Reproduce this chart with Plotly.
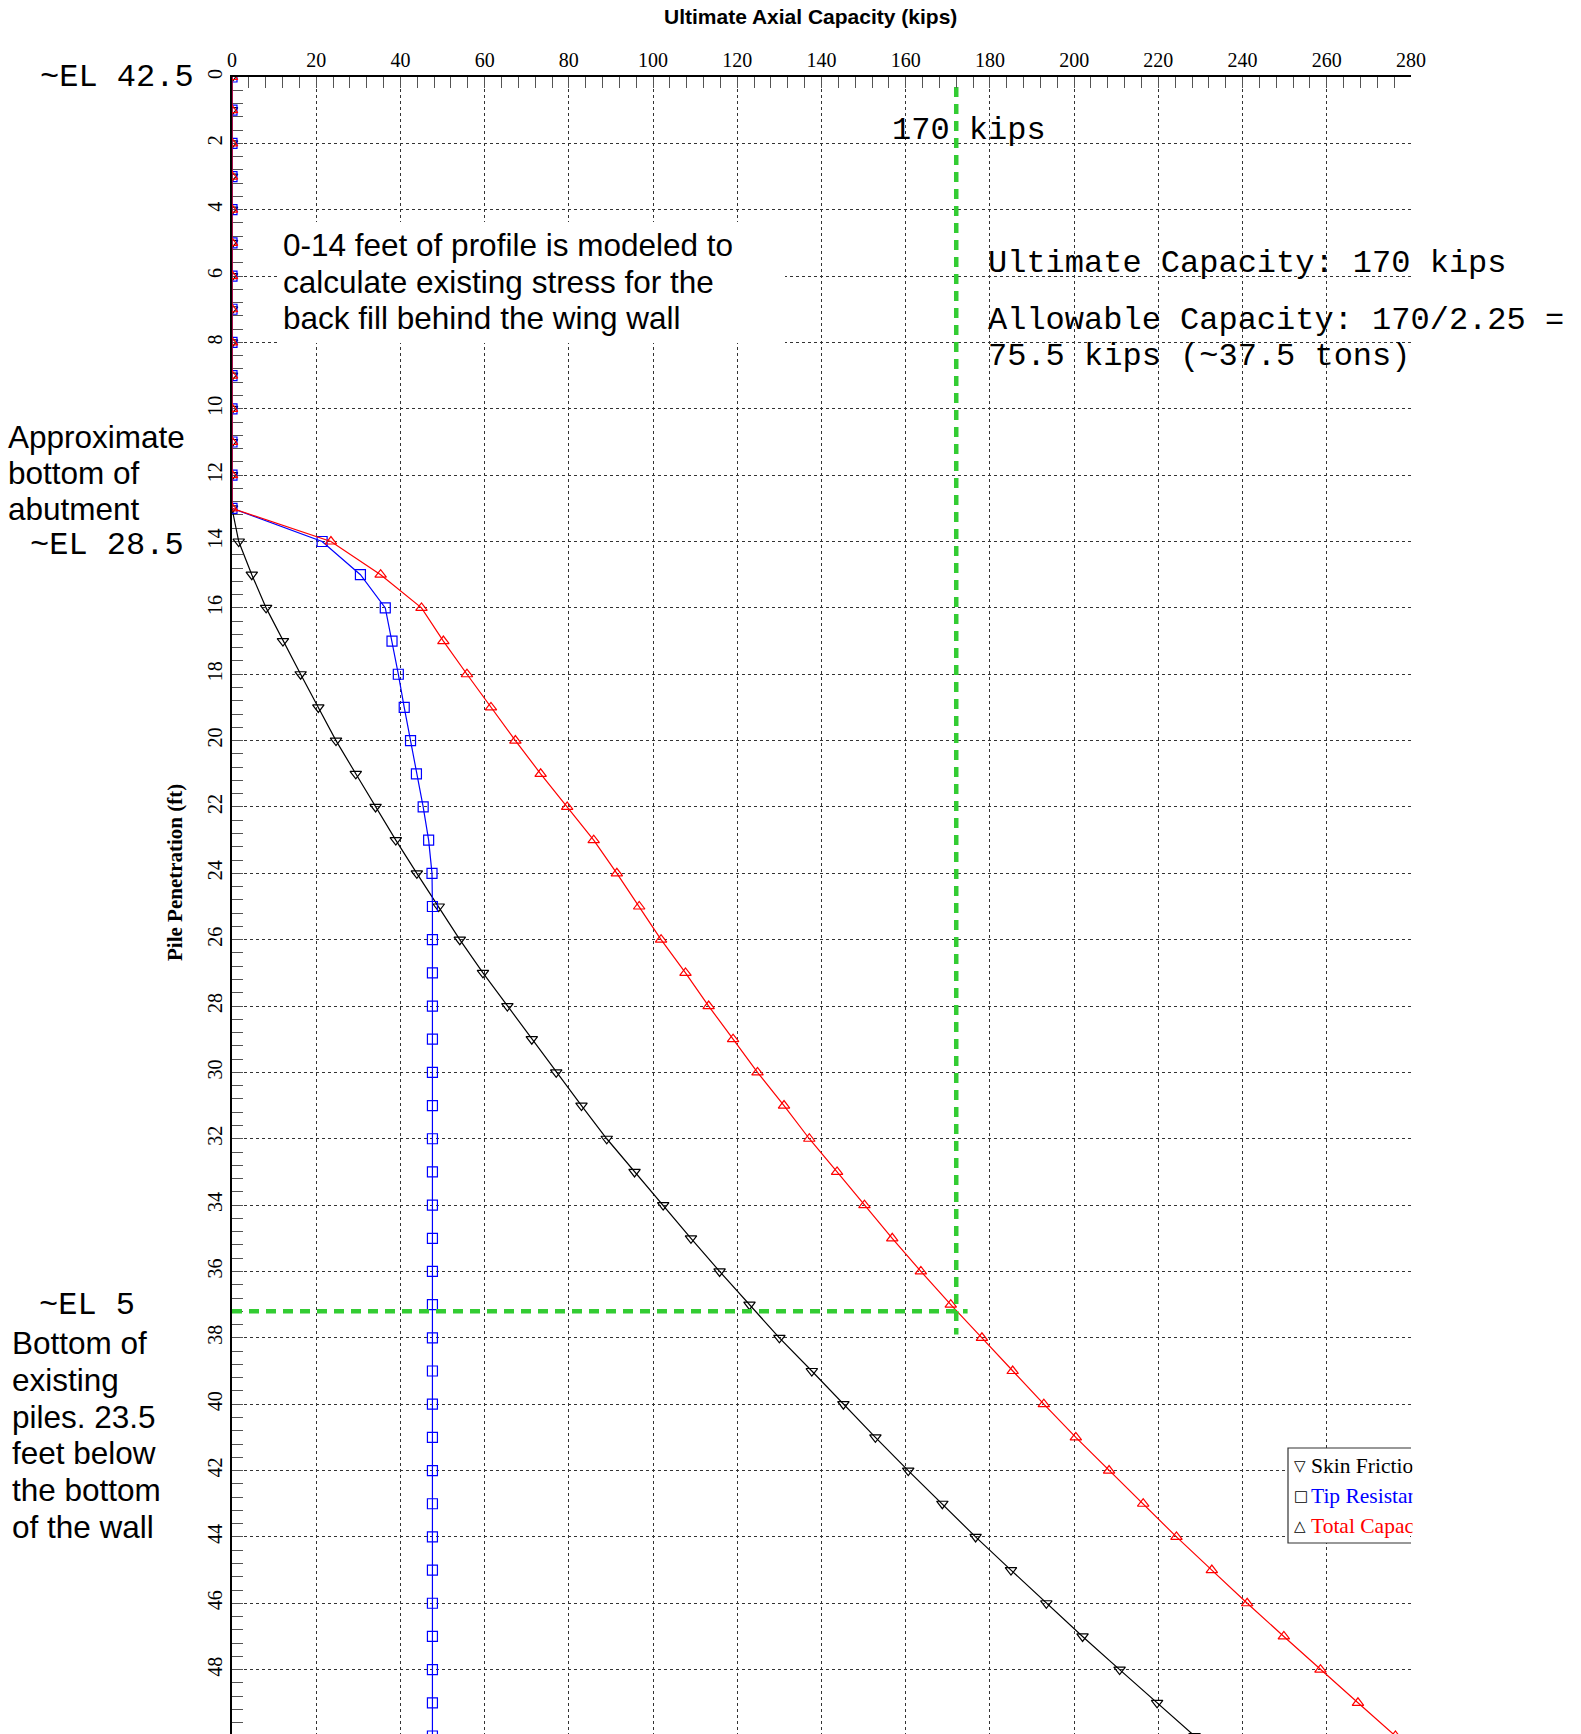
import plotly.graph_objects as go

# ---------------- data ----------------
depth = [0, 1, 2, 3, 4, 5, 6, 7, 8, 9, 10, 11, 12, 13, 14, 15, 16, 17, 18, 19, 20,
         21, 22, 23, 24, 25, 26, 27, 28, 29, 30, 31, 32, 33, 34, 35, 36, 37, 38, 39, 40,
         41, 42, 43, 44, 45, 46, 47, 48, 49, 50]
skin_friction = [0, 0, 0, 0, 0, 0, 0, 0, 0, 0, 0, 0, 0, 0,
                 1.6, 4.7, 8.1, 12.1, 16.3, 20.5, 24.7, 29.4, 34.1, 38.9, 43.9, 49.1, 54.1,
                 59.6, 65.4, 71.2, 77.0, 83.0, 89.0, 95.6, 102.4, 109.0, 115.8, 122.9, 130.0,
                 137.7, 145.2, 152.8, 160.6, 168.7, 176.6, 185.0, 193.4, 202.0, 210.8, 219.7, 228.6]
tip_resistance = [0, 0, 0, 0, 0, 0, 0, 0, 0, 0, 0, 0, 0, 0,
                  21.4, 30.5, 36.4, 38.0, 39.5, 40.9, 42.4, 43.8, 45.4, 46.7, 47.5, 47.6, 47.6,
                  47.6, 47.6, 47.6, 47.6, 47.6, 47.6, 47.6, 47.6, 47.6, 47.6, 47.6, 47.6,
                  47.6, 47.6, 47.6, 47.6, 47.6, 47.6, 47.6, 47.6, 47.6, 47.6, 47.6, 47.6]
total_capacity = [0, 0, 0, 0, 0, 0, 0, 0, 0, 0, 0, 0, 0, 0,
                  23.5, 35.3, 45.0, 50.2, 55.8, 61.5, 67.3, 73.3, 79.6, 85.9, 91.4, 96.7, 101.9,
                  107.7, 113.2, 119.0, 124.8, 131.1, 137.1, 143.7, 150.2, 156.8, 163.6, 170.7, 178.1,
                  185.4, 192.8, 200.4, 208.3, 216.4, 224.3, 232.7, 241.1, 249.8, 258.5, 267.4, 276.3]

series_names = ["Skin Friction", "Tip Resistance", "Total Capacity"]
series_colors = ["black", "blue", "red"]
series_symbols = ["triangle-down-open", "square-open", "triangle-up-open"]
legend_glyphs = ["▽", "□", "△"]

# reference lines (kips, ft)
ref_kips = 172.0
ref_kips_depth_span = [0.3, 37.9]
ref_depth = 37.2
ref_depth_kips_span = [0, 174.7]

x_range = [0, 280]
y_range = [49.94, 0]
x_ticks = [0, 20, 40, 60, 80, 100, 120, 140, 160, 180, 200, 220, 240, 260, 280]
y_ticks = [0, 2, 4, 6, 8, 10, 12, 14, 16, 18, 20, 22, 24, 26, 28, 30, 32, 34, 36, 38, 40,
           42, 44, 46, 48]

# ---------------- figure ----------------
W, H = 1581, 1734
ML, MR, MT, MB = 232, 170, 77, 0
X0, X1, Y0, Y1 = ML, W - MR, MT, H - MB


def px(x):
    return (x - X0) / (X1 - X0)


def py(y):
    return (Y1 - y) / (Y1 - Y0)


fig = go.Figure()

series_values = [skin_friction, tip_resistance, total_capacity]
for name, vals, col, sym in zip(series_names, series_values, series_colors, series_symbols):
    fig.add_trace(go.Scatter(
        x=vals, y=depth, mode="lines+markers", name=name,
        line=dict(color=col, width=1.2),
        marker=dict(symbol=sym, size=10, color=col, line=dict(color=col, width=1.2)),
        showlegend=False,
    ))

green = "#33CC33"
fig.add_trace(go.Scatter(
    x=[ref_kips, ref_kips], y=ref_kips_depth_span, mode="lines",
    line=dict(color=green, width=4.5, dash="10px,7px"), showlegend=False, hoverinfo="skip"))
fig.add_trace(go.Scatter(
    x=ref_depth_kips_span, y=[ref_depth, ref_depth], mode="lines",
    line=dict(color=green, width=4.5, dash="10px,7px"), showlegend=False, hoverinfo="skip"))

serif = "Liberation Serif, Times New Roman, serif"
sans = "Liberation Sans, Arial, sans-serif"
mono = "Liberation Mono, Courier New, monospace"

fig.update_xaxes(
    side="top", range=x_range, tickvals=x_ticks, ticks="inside", ticklen=11,
    tickcolor="#555", tickwidth=1,
    minor=dict(dtick=4, ticks="inside", ticklen=11, tickcolor="#555", showgrid=False),
    showline=True, linecolor="black", linewidth=1.5,
    showgrid=True, gridcolor="#333", griddash="dot", gridwidth=1,
    zeroline=False, tickfont=dict(family=serif, size=20, color="black"),
)
fig.update_yaxes(
    range=y_range, tickvals=y_ticks, ticks="inside", ticklen=11,
    tickcolor="#555", tickwidth=1, tickangle=-90,
    minor=dict(dtick=0.4, ticks="inside", ticklen=11, tickcolor="#555", showgrid=False),
    showline=True, linecolor="black", linewidth=1.5, layer="below traces",
    showgrid=True, gridcolor="#333", griddash="dot", gridwidth=1,
    zeroline=False, tickfont=dict(family=serif, size=20, color="black"),
)

annotations = []


def note(text, x, y, size, family, xanchor="left", yanchor="middle", **kw):
    d = dict(text=text, x=px(x), y=py(y), xref="paper", yref="paper",
             xanchor=xanchor, yanchor=yanchor, showarrow=False,
             font=dict(family=family, size=size, color=kw.pop("color", "black")))
    d.update(kw)
    annotations.append(d)


# title & axis title
note("<b>Ultimate Axial Capacity (kips)</b>", 810, 17, 21, sans, xanchor="center")
note("<b>Pile Penetration (ft)</b>", 175, 873, 21, serif, xanchor="center", textangle=-90)

# mono texts
note("~EL 42.5", 196, 77, 32, mono, xanchor="right")
note("170 kips", 890, 130, 32, mono)
note("Ultimate Capacity: 170 kips", 986, 263, 32, mono)
note("Allowable Capacity: 170/2.25 =", 986, 320, 32, mono)
note("75.5 kips (~37.5 tons)", 986, 357, 32, mono)
note("~EL 28.5", 28, 545, 32, mono)
note("~EL 5", 37, 1305, 32, mono)

# sans texts
box_lines = ["0-14 feet of profile is modeled to", "calculate existing stress for the",
             "back fill behind the wing wall"]
for t, yy in zip(box_lines, [245, 282, 318]):
    note(t, 281, yy, 31.5, sans)
for t, yy in zip(["Approximate", "bottom of", "abutment"], [437, 473, 509]):
    note(t, 6, yy, 31.5, sans)
for t, yy in zip(["Bottom of", "existing", "piles. 23.5", "feet below", "the bottom", "of the wall"],
                 [1343, 1380, 1417, 1453, 1490, 1527]):
    note(t, 10, yy, 31.5, sans)

# legend (clipped at plot edge)
for g, name, col, yy in zip(legend_glyphs, series_names, series_colors, [1466, 1496, 1526]):
    note(g, 1292, yy, 15, "DejaVu Sans")
    note(name, 1309, yy, 21.5, serif, color=col)
# cover the overflow beyond the plot edge
annotations.append(dict(text=" ", x=px(1412), y=py(1496), xref="paper", yref="paper",
                        xanchor="left", yanchor="middle", showarrow=False,
                        width=120, height=104, bgcolor="white", borderpad=0))

shapes = [
    # white box behind the 0-14 ft note
    dict(type="rect", xref="paper", yref="paper", x0=px(277), x1=px(785), y0=py(343), y1=py(222),
         fillcolor="white", line=dict(width=0), layer="above"),
    # legend box
    dict(type="rect", xref="paper", yref="paper", x0=px(1288), x1=px(1410), y0=py(1543), y1=py(1448),
         fillcolor="white", line=dict(width=0), layer="above"),
    dict(type="path", xref="paper", yref="paper",
         path=f"M {px(1411)} {py(1448)} L {px(1288)} {py(1448)} L {px(1288)} {py(1543)} L {px(1411)} {py(1543)}",
         line=dict(color="#333", width=1.2), layer="above"),
]

fig.update_layout(
    width=W, height=H, margin=dict(l=ML, r=MR, t=MT, b=MB, pad=0),
    paper_bgcolor="white", plot_bgcolor="white",
    annotations=annotations, shapes=shapes, showlegend=False,
)

fig.write_html("out.html", config={"displayModeBar": False},
               post_script="document.body.style.margin='0';")
